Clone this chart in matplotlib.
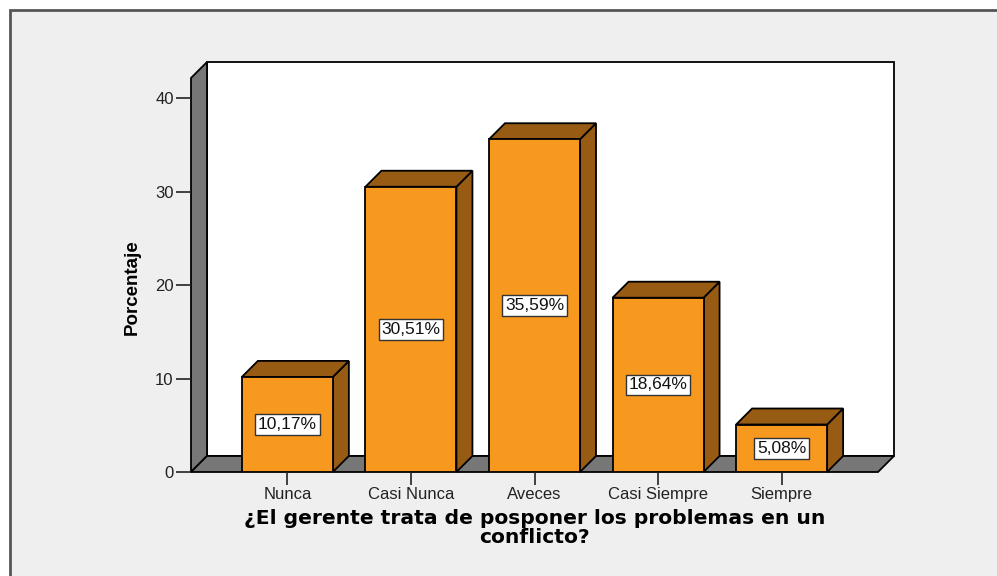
import matplotlib.pyplot as plt
from matplotlib.patches import Polygon, Rectangle

categorias = ['Nunca', 'Casi Nunca', 'Aveces', 'Casi Siempre', 'Siempre']
porcentajes = [10.17, 30.51, 35.59, 18.64, 5.08]
etiquetas = ['10,17%', '30,51%', '35,59%', '18,64%', '5,08%']
y_ticks = [0, 10, 20, 30, 40]

titulo_x = '¿El gerente trata de posponer los problemas en un\nconflicto?'
titulo_y = 'Porcentaje'

W, H = 997, 576
fig = plt.figure(figsize=(W / 100, H / 100), dpi=100)
fig.patch.set_facecolor('white')

# marco gris del visor
fig.patches.append(Rectangle((10 / W, -0.1), 1.2, 1 - 10 / H + 0.1, transform=fig.transFigure,
                             facecolor='#efefef', edgecolor='#555555', lw=2, zorder=-5))

# area frontal del grafico (en pixeles)
x0, x1, yb, yt = 191, 878, 472, 78
ax = fig.add_axes([x0 / W, (H - yb) / H, (x1 - x0) / W, (yb - yt) / H])
ax.set_zorder(2)
ax.set_facecolor('none')
xmin, xmax = -0.78, 4.78
ymin, ymax = 0, 42.14
ax.set_xlim(xmin, xmax)
ax.set_ylim(ymin, ymax)

# profundidad 3D en unidades de datos
prof = 16
dx = prof * (xmax - xmin) / (x1 - x0)
dy = prof * (ymax - ymin) / (yb - yt)

naranja = '#f7991f'
marron = '#985b14'
gris = '#777777'
kw = dict(edgecolor='black', lw=1.3, clip_on=False, joinstyle='miter')

# pared del fondo, pared izquierda y piso
ax.add_patch(Polygon([(xmin + dx, dy), (xmax + dx, dy), (xmax + dx, ymax + dy), (xmin + dx, ymax + dy)],
                     facecolor='white', **kw))
ax.add_patch(Polygon([(xmin, 0), (xmin + dx, dy), (xmin + dx, ymax + dy), (xmin, ymax)],
                     facecolor=gris, **kw))
ax.add_patch(Polygon([(xmin, 0), (xmax, 0), (xmax + dx, dy), (xmin + dx, dy)],
                     facecolor=gris, **kw))

ancho = 91 * (xmax - xmin) / (x1 - x0)
for i, (v, lab) in enumerate(zip(porcentajes, etiquetas)):
    l, r = i - ancho / 2, i + ancho / 2
    ax.add_patch(Polygon([(r, 0), (r + dx, dy), (r + dx, v + dy), (r, v)], facecolor=marron, **kw))
    ax.add_patch(Polygon([(l, v), (r, v), (r + dx, v + dy), (l + dx, v + dy)], facecolor=marron, **kw))
    ax.bar(i, v, width=ancho, color=naranja, edgecolor='black', lw=1.3, zorder=3)
    ax.text(i, v / 2, lab, ha='center', va='center', fontsize=12.5, family='Liberation Sans',
            color='#111111', zorder=5,
            bbox=dict(boxstyle='square,pad=0.16', facecolor='white', edgecolor='#333333', lw=1))

for s in ax.spines.values():
    s.set_visible(False)
ax.set_xticks(range(len(categorias)))
ax.set_xticklabels(categorias)
ax.set_yticks(y_ticks)
ax.tick_params(axis='y', direction='out', length=11, width=1.2, pad=1.5, color='#222222',
               labelsize=12, labelcolor='#222222')
ax.tick_params(axis='x', direction='out', length=9, width=1.2, pad=1.5, color='#222222',
               labelsize=12, labelcolor='#222222')
for t in ax.get_xticklabels() + ax.get_yticklabels():
    t.set_family('Liberation Sans')

fig.text(132 / W, 1 - 287 / H, titulo_y, rotation=90, ha='center', va='center',
         fontsize=13.5, fontweight='bold', family='Liberation Sans', color='black')
fig.text(534.5 / W, 1 - 528 / H, titulo_x, ha='center', va='center', multialignment='center',
         fontsize=14.6, fontweight='bold', family='DejaVu Sans', color='black', linespacing=0.95)

fig.savefig('out.png', dpi=100, facecolor=fig.get_facecolor())
